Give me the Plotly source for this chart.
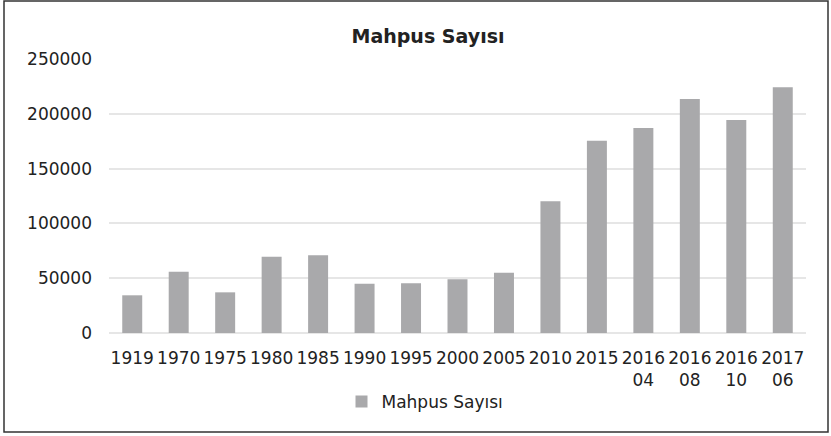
import plotly.graph_objects as go

categories = ["1919", "1970", "1975", "1980", "1985", "1990", "1995", "2000",
              "2005", "2010", "2015", "2016<br>04", "2016<br>08", "2016<br>10", "2017<br>06"]
values = [34400, 55900, 37100, 69600, 70900, 45000, 45300, 49000,
          55000, 120200, 175500, 187000, 213500, 194300, 224200]
series_name = "Mahpus Sayısı"
y_ticks = [0, 50000, 100000, 150000, 200000, 250000]

W, H = 831, 436
L, R, T, B = 109, 25, 59, 103
pw, ph = W - L - R, H - T - B

fig = go.Figure()
fig.add_trace(go.Bar(
    x=categories, y=values, name=series_name,
    marker=dict(color="#a9a9ab", line=dict(width=0)),
))

fig.update_layout(
    width=W, height=H,
    margin=dict(l=L, r=R, t=T, b=B, autoexpand=False),
    paper_bgcolor="white", plot_bgcolor="white",
    font=dict(family="DejaVu Sans", size=17, color="#222222"),
    bargap=0.57,
    title=dict(text="<b>Mahpus Sayısı</b>", x=428 / W, xanchor="center",
               y=1 - 36 / H, yanchor="middle", font=dict(size=19, color="#222222")),
    showlegend=True,
    legend=dict(orientation="h", x=(425 - L) / pw, xanchor="center",
                y=(333 - 402) / ph, yanchor="middle", font=dict(size=17),
                itemwidth=30),
    xaxis=dict(type="category", showgrid=False, showline=False, ticks="",
               tickangle=0, ticklabelstandoff=13, tickfont=dict(size=17)),
    yaxis=dict(range=[0, 250000], tickvals=y_ticks, ticktext=[str(v) for v in y_ticks],
               showgrid=True, gridcolor="#e6e6e6", gridwidth=1.5,
               zeroline=True, zerolinecolor="#e6e6e6", zerolinewidth=1.5,
               showline=False, ticks="", ticklabelstandoff=16, tickfont=dict(size=17)),
)

fig.add_shape(type="rect", xref="paper", yref="paper",
              x0=(4 - L) / pw, x1=(828 - L) / pw,
              y0=(333 - 432) / ph, y1=(333 - 1) / ph,
              line=dict(color="#333333", width=1.5), fillcolor="rgba(0,0,0,0)", layer="above")

fig.write_html("out.html", config={"displayModeBar": False},
               post_script="document.body.style.margin='0';")
